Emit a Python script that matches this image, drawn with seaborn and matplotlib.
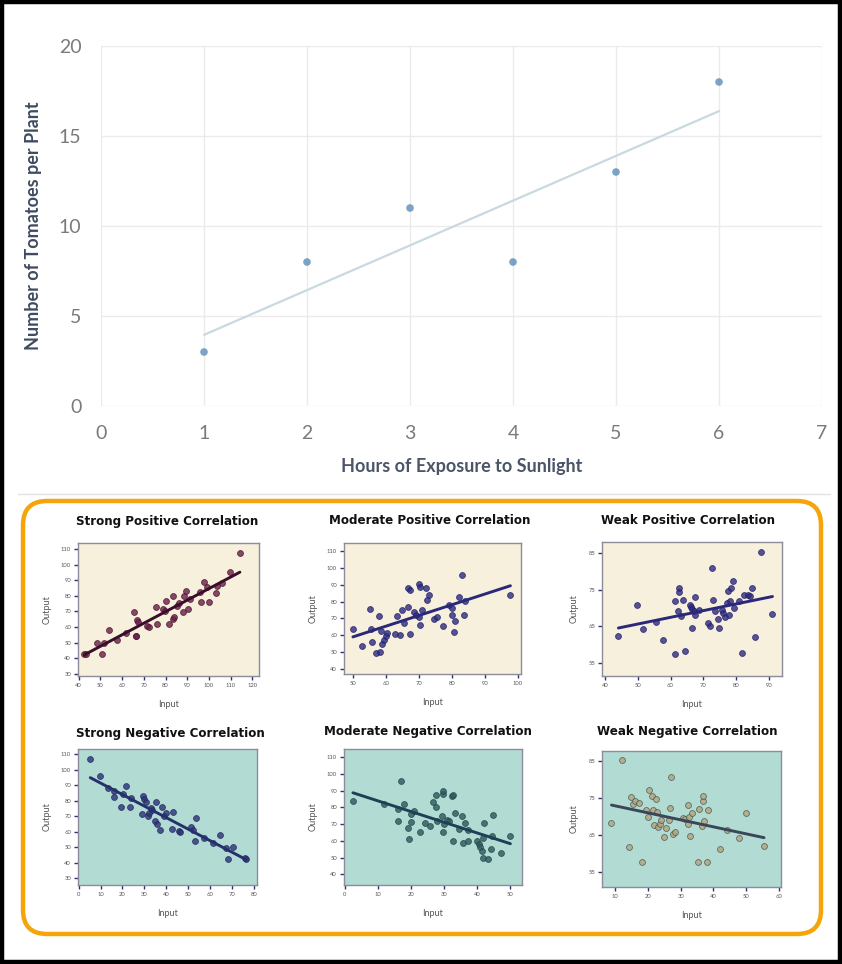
import matplotlib
matplotlib.use("Agg")
import matplotlib.pyplot as plt
import seaborn as sns
import pandas as pd
from matplotlib.patches import FancyBboxPatch, Rectangle

# ---------------- data ----------------
hours = [1, 2, 3, 4, 5, 6]
tomatoes = [3, 8, 11, 8, 13, 18]

sp_in = [42.6, 43.2, 48.6, 50.8, 51.7, 54.1, 57.8, 62.0, 65.5, 66.3,
         66.5, 67.0, 67.5, 71.6, 72.4, 75.6, 76.2, 79.0, 79.8, 80.4,
         81.6, 83.3, 83.3, 84.0, 85.4, 86.0, 88.0, 88.3, 89.6, 90.4,
         91.3, 95.9, 96.2, 97.9, 99.0, 100.2, 103.1, 103.6, 105.9, 109.7,
         114.2]
sp_out = [43, 42.6, 50.1, 42.6, 50, 58, 52, 56, 69.4, 54.4,
          54, 64.5, 63.4, 60.6, 60, 73, 62, 71.5, 70.2, 76.8,
          61.7, 79.8, 65, 66.6, 73.6, 75.6, 69.8, 79.8, 83.3, 71.5,
          77.7, 82.2, 76.2, 89, 85.4, 76.2, 82, 86.3, 88, 95.5,
          107.2]

mp_in = [50, 52.8, 55.1, 55.6, 55.9, 57.1, 58.2, 57.9, 58.6, 58.9,
         59.4, 60.1, 60.3, 62.8, 63.4, 64.4, 64.9, 65.4, 66.6, 66.8,
         67.4, 67.4, 68.6, 69.1, 69.9, 70.1, 70.3, 70.3, 70.8, 72.1,
         72.4, 73.1, 74.6, 75.6, 77.2, 79, 79.9, 79.9, 80.5, 80.9,
         82, 83, 83.7, 84, 97.7]
mp_out = [63.7, 53.2, 75.6, 63.7, 55.8, 49.3, 49.9, 71.4, 62.5, 54.6,
          56.8, 59.6, 61.2, 60.6, 71.6, 59.8, 75, 67.5, 77, 87.9,
          86.9, 60.6, 73.6, 72, 71, 90.2, 88.4, 66.1, 75, 88.2,
          81, 83.9, 69.7, 70.6, 65.5, 78, 76.4, 72, 61.7, 68.5,
          82.5, 95.8, 72, 80.3, 84]

wp_in = [44.1, 49.7, 51.7, 55.5, 57.6, 61.5, 61.3, 62.6, 62.7, 62.4,
         63.1, 63.7, 64.5, 65.9, 66.1, 66.7, 66.7, 67.2, 67.4, 67.4,
         68.8, 71.3, 72.0, 72.8, 73.0, 73.5, 74.6, 74.8, 75.6, 76.1,
         76.6, 77.1, 77.4, 77.8, 78.1, 78.4, 79.1, 79.4, 81.0, 81.7,
         82.4, 83.7, 84.2, 84.9, 85.9, 87.6, 91.1]
wp_out = [62.3, 70.9, 64.3, 66.1, 61.4, 57.5, 71.8, 75.5, 74.5, 69.1,
          67.9, 72.1, 58.2, 70.9, 70.3, 69.7, 64.5, 69.1, 73, 68.2,
          69.5, 65.9, 65.2, 80.9, 72.3, 69.1, 67, 64.5, 69.5, 68.6,
          67.7, 71.4, 74.7, 68, 71.8, 75.5, 77.3, 70, 72, 57.7,
          73.6, 73.6, 73.4, 75.5, 62, 85.2, 68.4]

sn_in = [5.3, 9.6, 13.4, 16.0, 16.1, 20.2, 21.7, 19.2, 23.3, 24.0,
         29.3, 29.6, 28.9, 30.6, 31.6, 32.0, 33.1, 33.6, 34.7, 35.1,
         35.7, 36.9, 38.2, 38.9, 39.9, 42.6, 43.0, 45.6, 46.4, 51.4,
         52.2, 52.9, 53.4, 57.2, 61.3, 64.5, 67.4, 68.1, 70.4, 75.7,
         76.2]
sn_out = [106.8, 95.6, 88, 82, 85.9, 84.2, 89.1, 76.2, 75.6, 81.6,
          82.7, 81.2, 71.3, 79, 69.8, 71.9, 75.2, 74.1, 67, 79,
          64.8, 61.2, 76.2, 69.8, 71.9, 61.8, 72.6, 60.5, 60.1, 63.3,
          61.2, 53.7, 69.1, 55.8, 52.6, 58, 49.8, 42.5, 50, 42.9,
          42.5]

mn_in = [2.5, 11.9, 16.2, 16.9, 16.0, 18.0, 19.0, 19.4, 19.9, 20.0,
         21.0, 22.7, 24.2, 25.6, 26.8, 27.6, 27.6, 27.8, 29.3, 29.6,
         29.8, 29.8, 30.1, 31.0, 31.6, 32.3, 32.8, 32.6, 33.3, 34.6,
         35.4, 35.7, 36.4, 37.2, 37.2, 39.9, 40.4, 40.9, 41.4, 41.7,
         41.7, 42.1, 43.1, 44.1, 44.4, 44.9, 47.2, 50.0]
mn_out = [83.6, 82, 72, 95.6, 79, 82, 68, 61.2, 76, 71.6,
          78, 65.2, 70.6, 69, 83.2, 80, 87.6, 72, 74.6, 88,
          89.6, 65.2, 70, 72.6, 72, 86.6, 87.2, 60, 76.6, 67,
          74.6, 58.6, 71, 66.6, 60, 60, 58, 56.2, 54, 50,
          62, 71, 49.2, 55, 63.2, 75.6, 53, 63.2]

wn_in = [8.8, 12.0, 14.1, 14.8, 15.3, 16.1, 17.3, 18.1, 19.4, 20.1,
         20.4, 21.3, 21.6, 21.9, 22.3, 22.6, 23.1, 23.6, 24.1, 24.8,
         25.4, 26.3, 26.8, 26.9, 27.6, 28.1, 30.8, 31.4, 32.1, 32.3,
         32.6, 32.9, 33.5, 35.2, 35.7, 36.5, 36.7, 36.9, 37.2, 38.0,
         38.2, 42.0, 44.1, 47.9, 49.9, 55.5]
wn_out = [68.3, 85.2, 61.8, 75.3, 73.5, 74.1, 73.7, 57.7, 71.8, 69.9,
          77.1, 75.5, 71.7, 67.8, 74.6, 71.2, 67.3, 68.1, 69.1, 64.5,
          66.9, 69.1, 72.3, 80.7, 65.4, 65.8, 69.6, 69.4, 73, 68.1,
          69.9, 64.7, 71, 57.9, 72.1, 67.4, 74.1, 75.5, 68.7, 57.7,
          71.7, 61.3, 66.3, 64.2, 71, 62.2]

titles = ["Strong Positive Correlation", "Moderate Positive Correlation",
          "Weak Positive Correlation", "Strong Negative Correlation",
          "Moderate Negative Correlation", "Weak Negative Correlation"]
main_xticks = [0, 1, 2, 3, 4, 5, 6, 7]
main_yticks = [0, 5, 10, 15, 20]

# ---------------- figure ----------------
sns.set_style("white")
plt.rcParams['font.family'] = ['Lato', 'DejaVu Sans']

W, H = 842, 964
fig = plt.figure(figsize=(W / 100, H / 100), dpi=100)
fig.patch.set_facecolor("white")


def px_axes(l, t, r, b, z=2):
    return fig.add_axes([l / W, 1 - b / H, (r - l) / W, (b - t) / H], zorder=z)


# background decoration axes in pixel coordinates
bg = fig.add_axes([0, 0, 1, 1], zorder=0)
bg.set_xlim(0, W)
bg.set_ylim(H, 0)
bg.axis("off")
bg.add_patch(Rectangle((2, 2), W - 4, H - 4, fill=False, edgecolor="black", lw=3.2))
bg.plot([18, 830], [494, 494], color="#E3E3E3", lw=1)
bg.add_patch(FancyBboxPatch((23, 501), 798, 433,
                            boxstyle="round,pad=0,rounding_size=24",
                            facecolor="white", edgecolor="#F5A50A", lw=3.2))

# ---------------- main chart ----------------
ax = px_axes(101, 46, 822, 406)
sns.regplot(x=hours, y=tomatoes, ax=ax, ci=None, truncate=True,
            scatter_kws=dict(s=30, color="#5A8DB9", edgecolor="none", zorder=3),
            line_kws=dict(color="#C9D9E2", lw=1.6, zorder=2))
ax.set_xlim(0, 7)
ax.set_ylim(0, 20)
ax.set_xticks(main_xticks)
ax.set_yticks(main_yticks)
ax.grid(True, color="#EBEBEB", lw=1)
for s in ax.spines.values():
    s.set_visible(False)
ax.tick_params(length=0, labelsize=14, labelcolor="#7A7A7A", pad=14)
ax.set_xlabel("Hours of Exposure to Sunlight", fontsize=13, fontweight="bold",
              color="#4A5568", labelpad=11)
ax.set_ylabel("Number of Tomatoes per Plant", fontsize=13, fontweight="bold",
              color="#3F4C60", labelpad=12)

# ---------------- six small panels ----------------
beige = "#F6F0DC"
teal = "#B2DBD4"
panels = [
    dict(x=sp_in, y=sp_out, rect=(78, 543, 259, 676), bg=beige, xlim=(39.7, 123), ylim=(28.7, 113.8),
         xt=list(range(40, 121, 10)), yt=list(range(30, 111, 10)), fc="#6A1F46", ec="#4A1030", line="#3A0E2A",
         tpos=(167, 521)),
    dict(x=mp_in, y=mp_out, rect=(344, 543, 521, 674), bg=beige, xlim=(47.3, 100.9), ylim=(36.8, 114.9),
         xt=list(range(50, 101, 10)), yt=list(range(40, 111, 10)), fc="#2C2A80", ec="#22206A", line="#2A2878",
         tpos=(430, 521)),
    dict(x=wp_in, y=wp_out, rect=(602, 542, 782, 676), bg=beige, xlim=(39.1, 94), ylim=(51.5, 88),
         xt=list(range(40, 91, 10)), yt=[55, 65, 75, 85], fc="#2E2A82", ec="#22206A", line="#2A2878",
         tpos=(688, 521)),
    dict(x=sn_in, y=sn_out, rect=(78, 749, 257, 885), bg=teal, xlim=(-0.3, 81.4), ylim=(25.7, 113.2),
         xt=list(range(0, 81, 10)), yt=list(range(30, 111, 10)), fc="#2C3276", ec="#20265E", line="#26306A",
         tpos=(170, 733)),
    dict(x=mn_in, y=mn_out, rect=(344, 749, 522, 885), bg=teal, xlim=(-0.2, 53.5), ylim=(33.6, 115),
         xt=list(range(0, 51, 10)), yt=list(range(40, 111, 10)), fc="#2B5B5C", ec="#1E4446", line="#1F3F55",
         tpos=(428, 732)),
    dict(x=wn_in, y=wn_out, rect=(602, 751, 781, 887), bg=teal, xlim=(5.9, 60.7), ylim=(51.1, 87.6),
         xt=list(range(10, 61, 10)), yt=[55, 65, 75, 85], fc="#B9A37C", ec="#3E5A55", line="#3C4658",
         tpos=(687, 731)),
]

for p, title in zip(panels, titles):
    l, t, r, b = p["rect"]
    a = px_axes(l, t, r, b)
    a.set_facecolor(p["bg"])
    df = pd.DataFrame({"Input": p["x"], "Output": p["y"]})
    sns.regplot(data=df, x="Input", y="Output", ax=a, ci=None, truncate=True,
                scatter_kws=dict(s=18, color=p["fc"], edgecolor=p["ec"], linewidths=0.6, zorder=3),
                line_kws=dict(color=p["line"], lw=2.1, zorder=4))
    a.set_xlim(*p["xlim"])
    a.set_ylim(*p["ylim"])
    a.set_xticks(p["xt"])
    a.set_yticks(p["yt"])
    for s in a.spines.values():
        s.set_color("#8C8C9C")
        s.set_linewidth(1.0)
    a.tick_params(direction="out", length=3, width=1, color="#2E3568",
                  labelsize=4.2, labelcolor="#555555", pad=2,
                  left=True, bottom=True)
    a.set_xlabel("Input", fontsize=6.5, color="#555555", labelpad=9)
    a.set_ylabel("Output", fontsize=6.5, color="#555555", labelpad=7)
    bg.text(p["tpos"][0], p["tpos"][1], title, ha="center", va="center",
            fontsize=8.6, fontweight="bold", color="#111111", family="DejaVu Sans")

fig.savefig("out.png", dpi=100, facecolor="white")
